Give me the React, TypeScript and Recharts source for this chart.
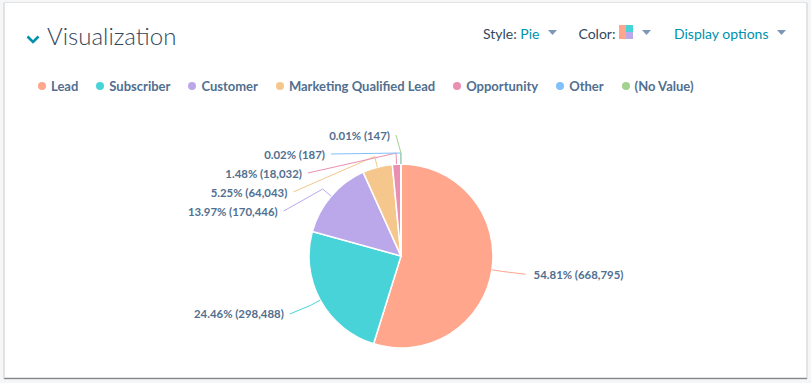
import { PieChart, Pie, Cell, Legend } from 'recharts';

const categories = ['Lead', 'Subscriber', 'Customer', 'Marketing Qualified Lead', 'Opportunity', 'Other', '(No Value)'];
const counts = [668795, 298488, 170446, 64043, 18032, 187, 147];
const colors = ['#ffa68c', '#48d3d9', '#bba8eb', '#f6c78d', '#ea8fb2', '#80c1fc', '#a2d28f'];

const data = categories.map((name, i) => ({ name, value: counts[i], color: colors[i] }));
const total = counts.reduce((a, b) => a + b, 0);

const CX = 401;
const CY = 256;
const RADIUS = 92;
const LABEL_R = 121;
const ROW = 19;
const TOP_LIMIT = 135;
const RADIAN = Math.PI / 180;

const fmt = (n: number) => n.toLocaleString('en-US');

// stack the labels on each side so they don't overlap (like highcharts does)
function layoutLabels() {
  let angle = 90;
  const items = data.map((d, i) => {
    const sweep = (d.value / total) * 360;
    const mid = angle - sweep / 2;
    angle -= sweep;
    const cos = Math.cos(mid * RADIAN);
    return { i, left: cos < 0, y: CY - LABEL_R * Math.sin(mid * RADIAN) };
  });
  const out: number[] = new Array(data.length);
  [true, false].forEach((side) => {
    const list = items.filter((it) => it.left === side).sort((a, b) => a.y - b.y);
    let prev = TOP_LIMIT - ROW;
    list.forEach((it) => {
      const y = Math.max(it.y, prev + ROW);
      out[it.i] = y;
      prev = y;
    });
  });
  return out;
}

const labelY = layoutLabels();

function renderLabel(props: any) {
  const { cx, cy, midAngle, outerRadius, index } = props;
  const d = data[index];
  const cos = Math.cos(midAngle * RADIAN);
  const sin = Math.sin(midAngle * RADIAN);
  const left = cos < 0;
  const y = labelY[index];
  const dy = Math.max(-LABEL_R, Math.min(LABEL_R, y - cy));
  const ax = cx + (left ? -1 : 1) * (Math.sqrt(LABEL_R * LABEL_R - dy * dy) + 5);
  const bx = cx + (outerRadius + 11) * cos;
  const by = cy - (outerRadius + 11) * sin;
  const tx = cx + outerRadius * cos;
  const ty = cy - outerRadius * sin;
  const pct = ((d.value / total) * 100).toFixed(2);
  return (
    <g key={`lbl-${index}`}>
      <path d={`M${ax},${y} L${bx},${by} L${tx},${ty}`} stroke={d.color} strokeWidth={1} fill="none" />
      <text
        x={ax + (left ? -6 : 8)}
        y={y}
        textAnchor={left ? 'end' : 'start'}
        dominantBaseline="central"
        fill="#516f90"
        fontSize={11.4}
        fontWeight={700}
        fontFamily="Lato, sans-serif"
      >
        {`${pct}% (${fmt(d.value)})`}
      </text>
    </g>
  );
}

function LegendContent({ payload }: any) {
  const items = [...(payload || [])].sort(
    (a: any, b: any) => categories.indexOf(a.value) - categories.indexOf(b.value)
  );
  return (
    <div style={{ display: 'flex', alignItems: 'center', fontFamily: 'Lato, sans-serif' }}>
      {items.map((p: any) => (
        <div key={p.value} style={{ display: 'flex', alignItems: 'center', marginRight: 18 }}>
          <span style={{ width: 8, height: 8, borderRadius: 4, background: p.color, marginRight: 5 }} />
          <span style={{ color: '#516f90', fontSize: 13, fontWeight: 700 }}>{p.value}</span>
        </div>
      ))}
    </div>
  );
}

function Caret({ color }: { color: string }) {
  return (
    <svg width={9} height={5} style={{ marginLeft: 9, marginBottom: 2 }}>
      <path d="M0,0 L9,0 L4.5,5 Z" fill={color} />
    </svg>
  );
}

export default function App() {
  return (
    <div style={{ position: 'relative', width: 811, height: 383, background: '#f5f6f7', overflow: 'hidden', fontFamily: 'Lato, sans-serif' }}>
      <style>{`body{margin:0}`}</style>
      <div
        style={{
          position: 'absolute', left: 4, top: 2, width: 801, height: 374,
          background: '#fff', border: '1px solid #e2e2e2', boxShadow: '0 1px 1px rgba(0,0,0,0.45)',
        }}
      />
      <svg style={{ position: 'absolute', left: 26, top: 35 }} width={14} height={9}>
        <path d="M1.5,1.5 L7,7 L12.5,1.5" stroke="#0091ae" strokeWidth={2.6} fill="none" />
      </svg>
      <div style={{ position: 'absolute', left: 47, top: 21, fontSize: 24, fontWeight: 300, color: '#33475b' }}>
        Visualization
      </div>
      <div style={{ position: 'absolute', left: 483, top: 25, display: 'flex', alignItems: 'center', fontSize: 14, color: '#33475b' }}>
        <span>Style:&nbsp;</span>
        <span style={{ color: '#0091ae' }}>Pie</span>
        <Caret color="#7c98b6" />
        <span style={{ marginLeft: 21 }}>Color:&nbsp;</span>
        <svg width={14} height={14} style={{ marginBottom: 3 }}>
          <rect x={0} y={0} width={7} height={14} fill={colors[0]} />
          <rect x={7} y={0} width={7} height={7} fill={colors[1]} />
          <rect x={7} y={7} width={7} height={7} fill={colors[2]} />
        </svg>
        <Caret color="#7c98b6" />
        <span style={{ marginLeft: 23, color: '#0091ae' }}>Display options</span>
        <Caret color="#7c98b6" />
      </div>
      <div style={{ position: 'absolute', left: 0, top: 0 }}>
        <PieChart width={811} height={383} margin={{ top: 0, right: 0, bottom: 0, left: 0 }}>
          <Pie
            data={data}
            dataKey="value"
            nameKey="name"
            cx={CX}
            cy={CY}
            outerRadius={RADIUS}
            startAngle={90}
            endAngle={-270}
            stroke="#ffffff"
            strokeWidth={1.5}
            labelLine={false}
            label={renderLabel}
            isAnimationActive={false}
          >
            {data.map((d) => (
              <Cell key={d.name} fill={d.color} />
            ))}
          </Pie>
          <Legend
            layout="horizontal"
            verticalAlign="middle"
            content={<LegendContent />}
            wrapperStyle={{ top: 78, left: 38, width: 'auto', height: 'auto' }}
          />
        </PieChart>
      </div>
    </div>
  );
}
